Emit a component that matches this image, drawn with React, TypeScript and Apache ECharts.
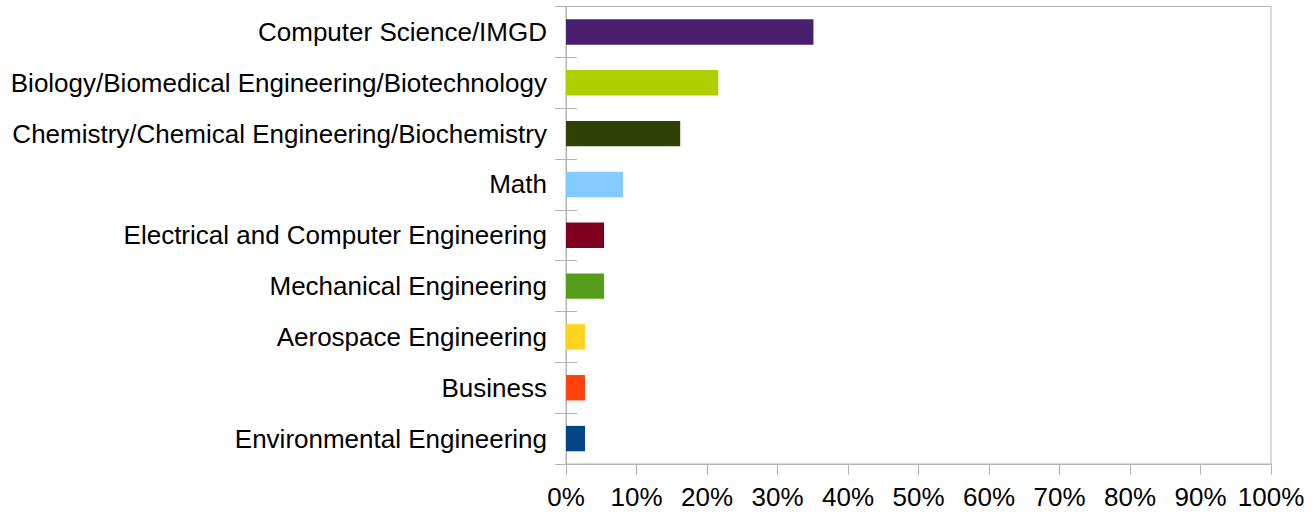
import React, { useEffect, useRef } from "react";
import * as echarts from "echarts";

const categories = [
  "Computer Science/IMGD",
  "Biology/Biomedical Engineering/Biotechnology",
  "Chemistry/Chemical Engineering/Biochemistry",
  "Math",
  "Electrical and Computer Engineering",
  "Mechanical Engineering",
  "Aerospace Engineering",
  "Business",
  "Environmental Engineering",
];
const values = [35.1, 21.6, 16.2, 8.1, 5.4, 5.4, 2.7, 2.7, 2.7];
const colors = [
  "#4b1f6f",
  "#b0cf00",
  "#314004",
  "#83caff",
  "#7e0021",
  "#579d1c",
  "#ffd320",
  "#ff420e",
  "#004586",
];

export default function App() {
  const ref = useRef<HTMLDivElement>(null);
  useEffect(() => {
    if (!ref.current) return;
    const chart = echarts.init(ref.current, null, { renderer: "svg" });
    const font = "'Liberation Sans', Arial, sans-serif";
    const gray = "#b3b3b3";
    chart.setOption({
      animation: false,
      backgroundColor: "#ffffff",
      grid: {
        left: 566,
        right: 45,
        top: 6.5,
        bottom: 50,
        show: true,
        borderColor: gray,
        borderWidth: 1,
      },
      xAxis: {
        type: "value",
        min: 0,
        max: 100,
        interval: 10,
        splitLine: { show: false },
        axisLine: { show: true, lineStyle: { color: gray, width: 1 } },
        axisTick: { show: true, length: 11, lineStyle: { color: gray } },
        axisLabel: {
          formatter: "{value}%",
          color: "#000",
          fontFamily: font,
          fontSize: 26,
          margin: 20,
        },
      },
      yAxis: [
        {
          type: "category",
          data: categories,
          inverse: true,
          axisLine: { show: true, lineStyle: { color: gray, width: 1 } },
          axisTick: { show: true, length: 11, lineStyle: { color: gray } },
          axisLabel: {
            color: "#000",
            fontFamily: font,
            fontSize: 26,
            margin: 19,
          },
          splitLine: { show: false },
        },
        {
          type: "category",
          data: categories,
          inverse: true,
          position: "left",
          axisLine: { show: false },
          axisTick: { show: true, inside: true, length: 11, lineStyle: { color: gray } },
          axisLabel: { show: false },
          splitLine: { show: false },
        },
      ],
      series: [
        {
          type: "bar",
          data: values.map((v, i) => ({ value: v, itemStyle: { color: colors[i] } })),
          barCategoryGap: "50%",
        },
      ],
    });
    return () => chart.dispose();
  }, []);
  return (
    <div
      ref={ref}
      style={{ position: "fixed", left: 0, top: 0, width: 1316, height: 514 }}
    />
  );
}
